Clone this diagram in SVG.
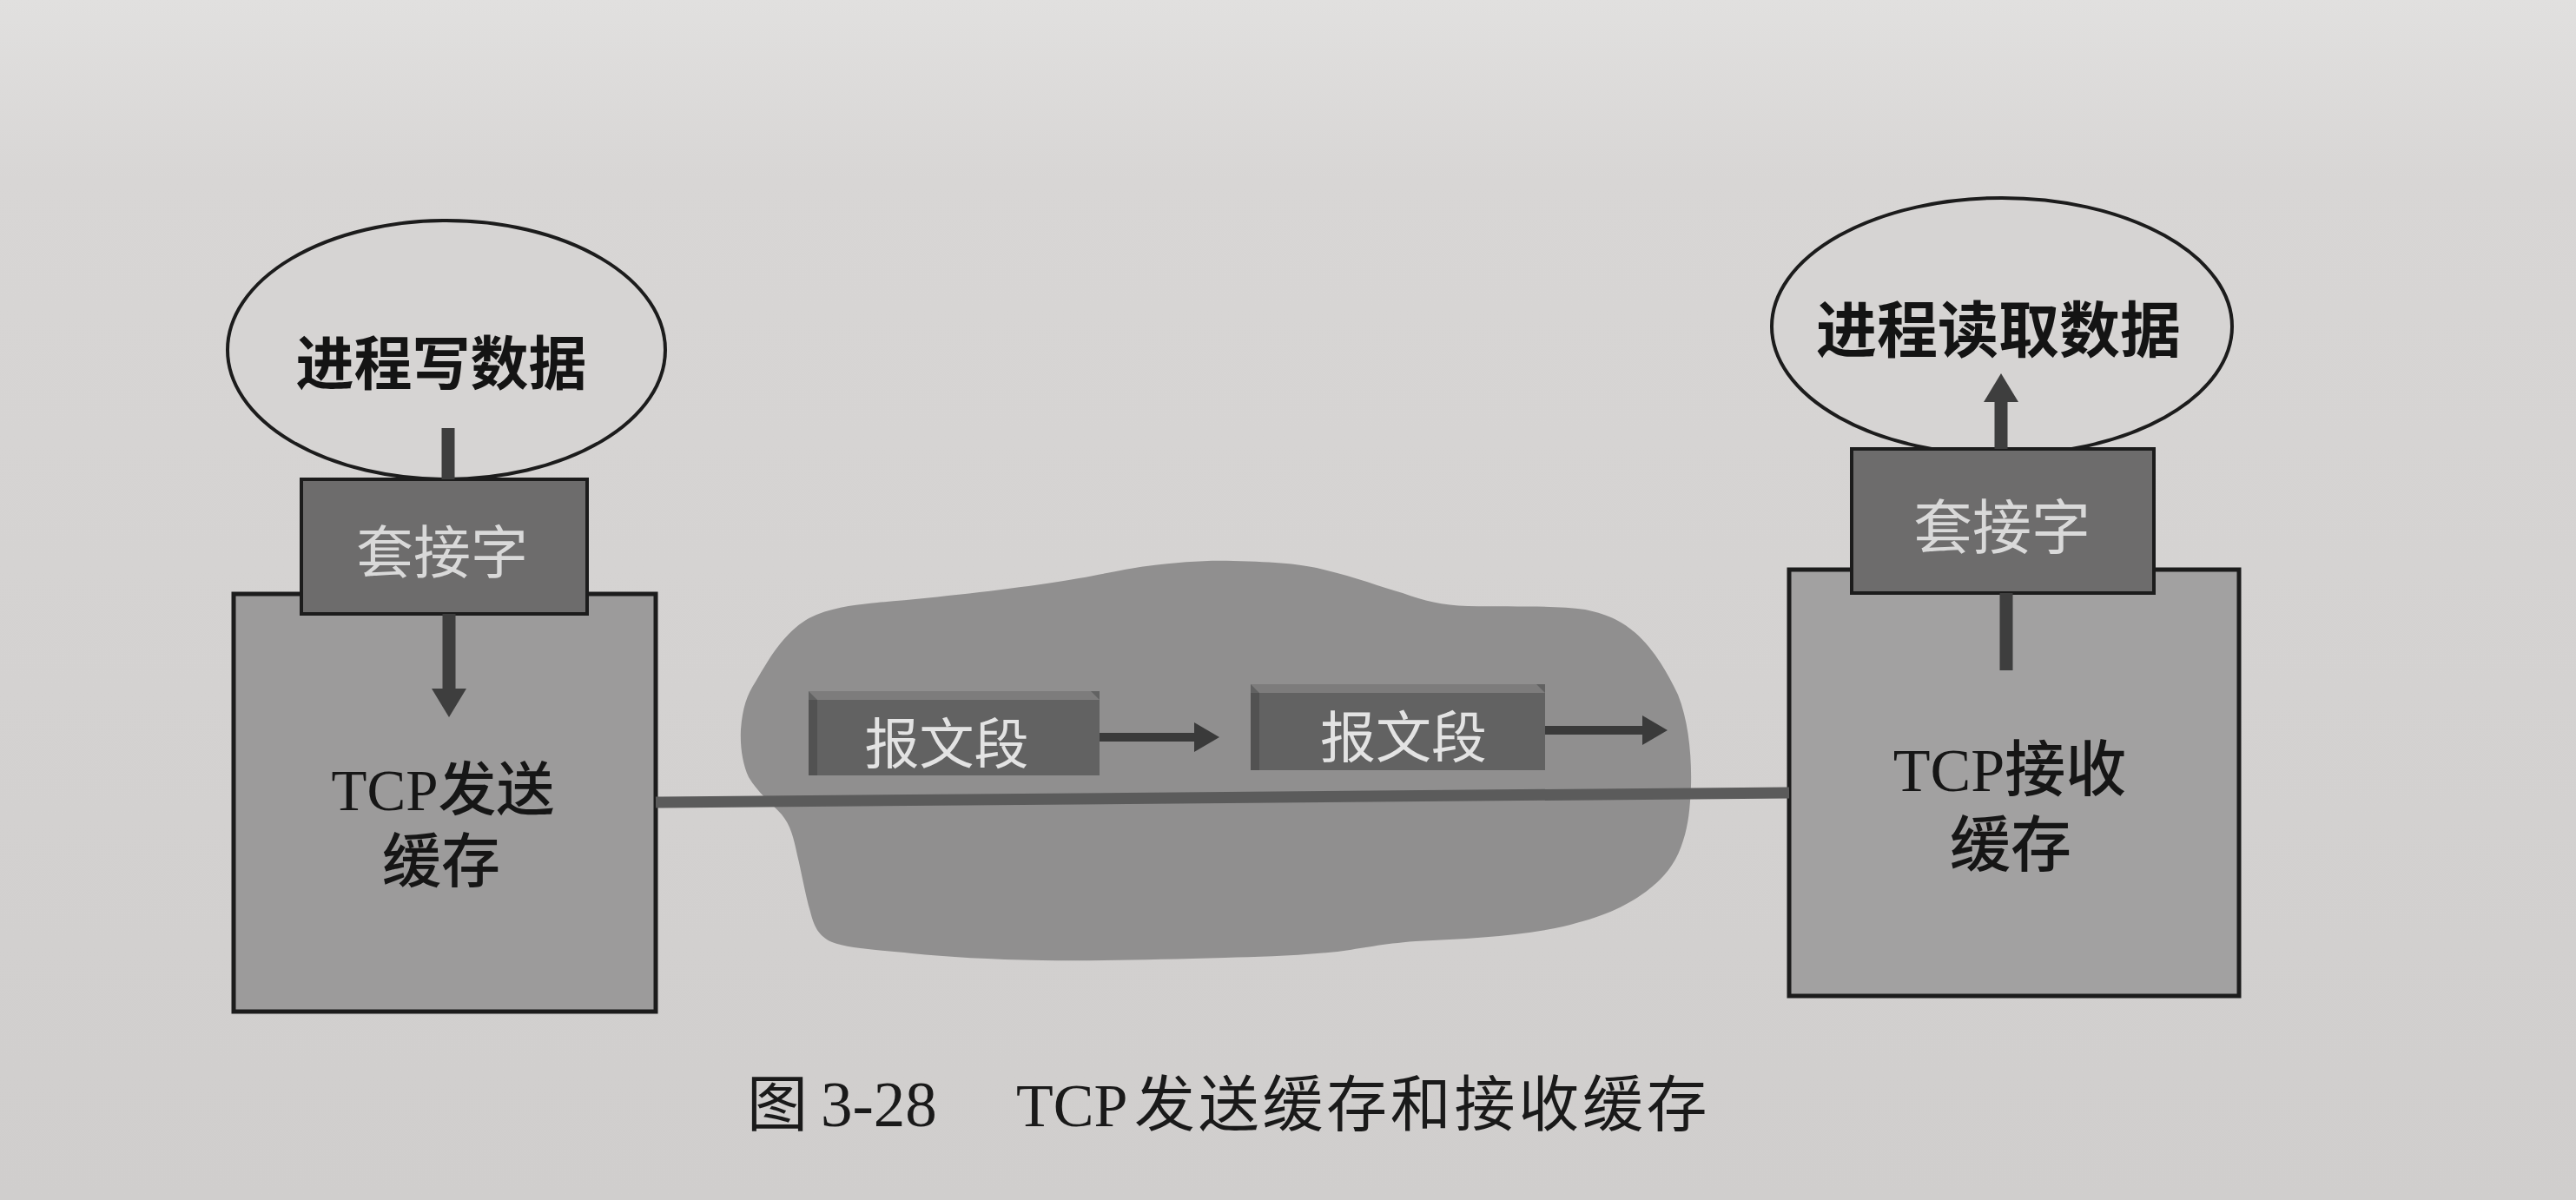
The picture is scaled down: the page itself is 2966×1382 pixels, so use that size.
<svg xmlns="http://www.w3.org/2000/svg" width="2966" height="1382" viewBox="0 0 2966 1382">
  <style>
    .ell { fill: none; stroke: #1c1c1c; stroke-width: 4; }
    .ell-fill { fill: #d6d4d3; }
    .buf { stroke: #1c1c1c; stroke-width: 5; }
    .sock { fill: #6d6c6c; stroke: #1c1c1c; stroke-width: 4; }
    .proc-text { font-family: "Noto Sans CJK SC", sans-serif; font-weight: 700; fill: #141414; text-anchor: middle; }
    .sock-text { font-family: "Noto Sans CJK SC", sans-serif; font-weight: 400; fill: #d9d9d9; text-anchor: middle; }
    .buf-text { font-family: "Liberation Serif", "Noto Sans CJK SC", serif; font-weight: 500; fill: #161616; text-anchor: middle; }
    .seg-front { fill: #626262; }
    .seg-top { fill: #7d7c7c; }
    .seg-side { fill: #525252; }
    .seg-text { font-family: "Noto Sans CJK SC", sans-serif; font-weight: 400; fill: #e3e3e3; text-anchor: middle; }
    .stem { stroke: #3e3e3e; stroke-width: 15; fill: none; }
    .seg-arrow { stroke: #3a3a3a; stroke-width: 10; fill: none; }
    .link { stroke: #5b5b5b; stroke-width: 13; fill: none; }
    .cap-cjk { font-family: "Noto Sans CJK SC", sans-serif; font-weight: 400; fill: #1a1a1a; }
    .cap-lat { font-family: "Liberation Serif", serif; fill: #1a1a1a; }
  </style>
  <defs>
    <linearGradient id="page" x1="0" y1="0" x2="0" y2="1">
      <stop offset="0" stop-color="#e1e0df"/>
      <stop offset="0.15" stop-color="#d8d6d5"/>
      <stop offset="1" stop-color="#d0cecd"/>
    </linearGradient>
    <marker id="head-big" markerUnits="userSpaceOnUse" viewBox="0 0 33 40" markerWidth="33" markerHeight="40" refX="1" refY="20" orient="auto">
      <path d="M0,0 L33,20 L0,40 Z" fill="#3e3e3e"/>
    </marker>
    <marker id="head-small" markerUnits="userSpaceOnUse" viewBox="0 0 29 34" markerWidth="29" markerHeight="34" refX="1" refY="17" orient="auto">
      <path d="M0,0 L29,17 L0,34 Z" fill="#3a3a3a"/>
    </marker>
  </defs>

  <rect x="0" y="0" width="2966" height="1382" fill="url(#page)"/>

  <!-- Network cloud -->
  <g id="node-network">
    <path d="M853,840 C855,815 860,800 870,785 C890,750 910,720 940,708 C965,698 990,696 1010,694 C1080,688 1150,680 1205,672 C1260,664 1290,656 1320,652 C1360,647 1390,645 1420,646 C1470,647 1500,650 1520,655 C1560,664 1590,676 1615,683 C1640,692 1660,697 1690,698 C1740,699 1790,697 1825,702 C1855,708 1870,718 1882,728 C1905,748 1920,775 1932,800 C1944,830 1948,870 1947,905 C1946,930 1944,950 1938,968 C1930,995 1915,1012 1895,1027 C1870,1045 1845,1056 1800,1067 C1750,1078 1690,1081 1630,1084 C1590,1087 1570,1092 1540,1096 C1490,1101 1450,1102 1410,1103 C1330,1105 1260,1107 1200,1106 C1140,1105 1090,1102 1050,1098 C1010,1094 975,1092 958,1085 C942,1078 937,1066 933,1050 C927,1030 923,1005 918,985 C914,965 910,950 900,938 C888,925 872,912 862,895 C855,880 852,860 853,840 Z" fill="#908f8f"/>
  </g>

  <!-- Sending side -->
  <g id="node-send-buffer">
    <rect class="buf" x="269" y="684" width="486" height="481" fill="#9c9b9b"/>
    <text class="buf-text" x="510" y="933" font-size="67">TCP发送</text>
    <text class="buf-text" x="508" y="1016" font-size="68">缓存</text>
  </g>
  <g id="node-write-process">
    <ellipse class="ell-fill" cx="514" cy="403" rx="252" ry="149"/>
    <ellipse class="ell" cx="514" cy="403" rx="252" ry="149"/>
    <text class="proc-text" x="508" y="443" font-size="67">进程写数据</text>
  </g>

  <!-- Receiving side -->
  <g id="node-recv-buffer">
    <rect class="buf" x="2060" y="656" width="518" height="491" fill="#a2a1a1"/>
    <text class="buf-text" x="2314" y="911" font-size="70">TCP接收</text>
    <text class="buf-text" x="2315" y="998" font-size="70">缓存</text>
  </g>
  <g id="node-read-process">
    <ellipse class="ell-fill" cx="2305" cy="376" rx="265" ry="148"/>
    <ellipse class="ell" cx="2305" cy="376" rx="265" ry="148"/>
    <text class="proc-text" x="2301" y="406" font-size="70">进程读取数据</text>
  </g>

  <g id="node-send-socket">
    <rect class="sock" x="347" y="552" width="329" height="155"/>
    <text class="sock-text" x="509" y="660" font-size="66">套接字</text>
  </g>
  <g id="node-recv-socket">
    <rect class="sock" x="2132" y="517" width="348" height="166"/>
    <text class="sock-text" x="2305" y="632" font-size="68">套接字</text>
  </g>

  <!-- Segments -->
  <g id="node-segment-1">
    <rect class="seg-front" x="931" y="796" width="335" height="97"/>
    <polygon class="seg-top" points="931,796 1256,796 1266,806 941,806"/>
    <rect class="seg-side" x="931" y="806" width="10" height="87"/>
    <text class="seg-text" x="1090" y="879" font-size="63">报文段</text>
  </g>
  <g id="node-segment-2">
    <rect class="seg-front" x="1440" y="788" width="339" height="99"/>
    <polygon class="seg-top" points="1440,788 1769,788 1779,798 1450,798"/>
    <rect class="seg-side" x="1440" y="798" width="10" height="89"/>
    <text class="seg-text" x="1616" y="872" font-size="64">报文段</text>
  </g>

  <!-- Connectors -->
  <g id="connectors">
    <line class="link" x1="755" y1="924" x2="2060" y2="913"/>
    <line class="stem" x1="516" y1="493" x2="516" y2="552" stroke-width="14"/>
    <line class="stem" x1="517" y1="707" x2="517" y2="794" marker-end="url(#head-big)"/>
    <line class="stem" x1="2304" y1="517" x2="2304" y2="462" marker-end="url(#head-big)" stroke-width="14"/>
    <line class="stem" x1="2310" y1="683" x2="2310" y2="772" stroke-width="16"/>
    <line class="seg-arrow" x1="1266" y1="849" x2="1376" y2="849" marker-end="url(#head-small)"/>
    <line class="seg-arrow" x1="1779" y1="841" x2="1892" y2="841" marker-end="url(#head-small)"/>
  </g>

  <!-- Caption -->
  <g id="caption">
    <text class="cap-cjk" x="860" y="1297" font-size="70">图</text>
    <text class="cap-lat" x="945" y="1297" font-size="73">3-28</text>
    <text class="cap-lat" x="1170" y="1297" font-size="70">TCP</text>
    <text class="cap-cjk" x="1306" y="1297" font-size="70" letter-spacing="3.7">发送缓存和接收缓存</text>
  </g>
</svg>
